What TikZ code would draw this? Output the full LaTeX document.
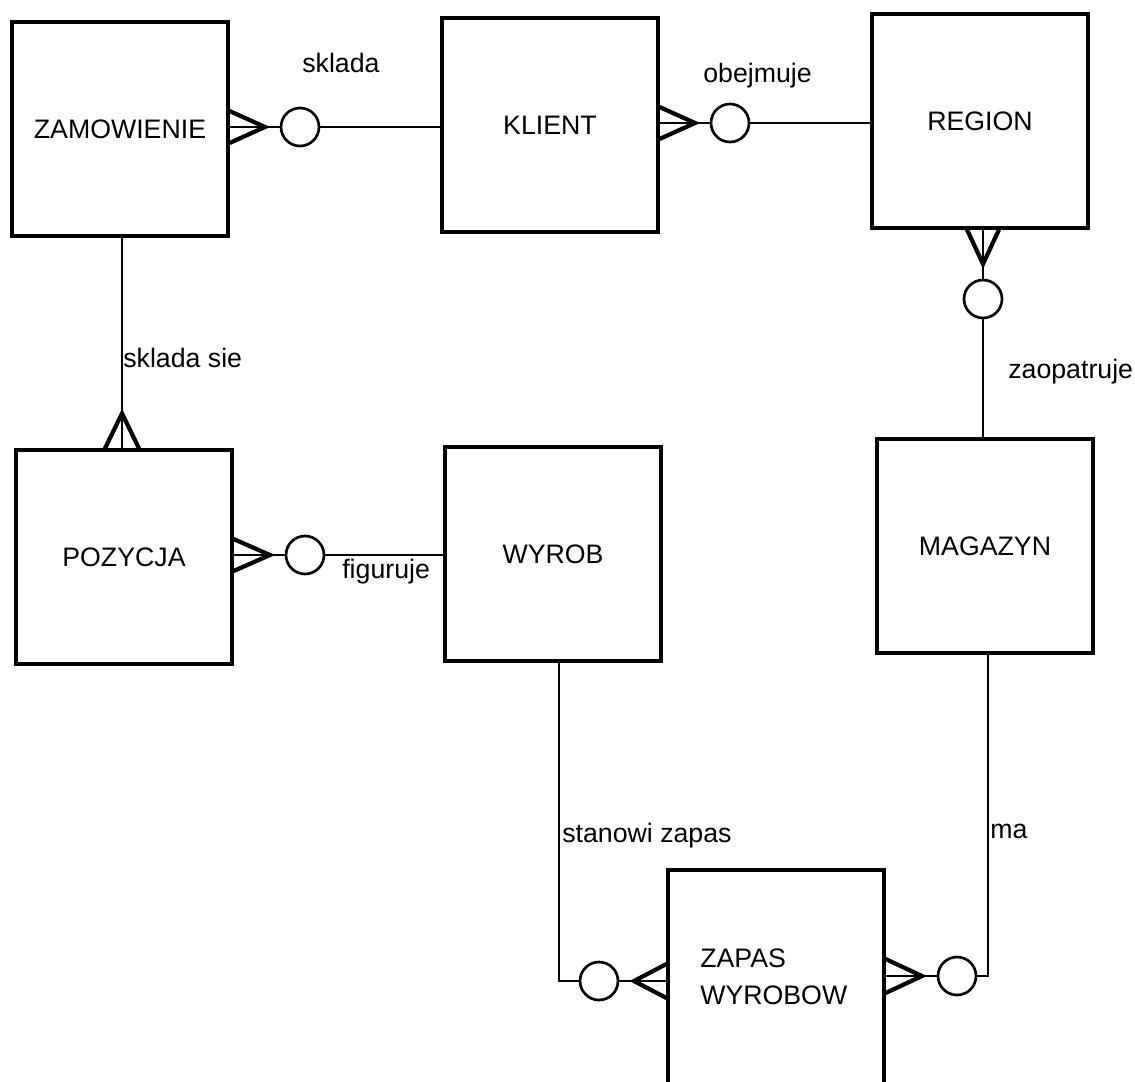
\documentclass[tikz,border=0pt]{standalone}
\usepackage{fontspec}
\setmainfont{Liberation Sans}
\usetikzlibrary{calc}

\begin{document}
\begin{tikzpicture}[x=0.025cm, y=-0.025cm, font=\fontsize{19}{26}\selectfont]
    \tikzstyle{entity}=[draw, line width=2.2pt, minimum width=5.4cm, minimum height=5.35cm, inner sep=0pt]
    \tikzstyle{opt}=[circle, draw, line width=1.9pt, minimum size=0.95cm, inner sep=0pt]
    \tikzstyle{link}=[line width=1.5pt]
    \tikzstyle{foot}=[line width=3pt, line join=miter]
    \tikzstyle{rel}=[anchor=base west, inner sep=0pt]

    \useasboundingbox (0,0) rectangle (1135,1081);
    \clip (0,0) rectangle (1135,1081);

    % encje
    \node[entity] (zam) at (120,129) {ZAMOWIENIE};
    \node[entity] (klient) at (550,125) {KLIENT};
    \node[entity] (region) at (980,121) {REGION};
    \node[entity] (poz) at (124,557) {POZYCJA};
    \node[entity] (wyrob) at (553,554) {WYROB};
    \node[entity] (magazyn) at (985,546) {MAGAZYN};
    \node[entity, minimum height=5.4cm] (zapas) at (776,978) {};
    \node[anchor=west, align=left, inner sep=0pt] (zapastxt) at (700,977) {ZAPAS\\WYROBOW};

    % kolka (opcjonalnosc)
    \node[opt] (o1) at (300,127) {};
    \node[opt] (o2) at (730,123) {};
    \node[opt] (o3) at (983,299) {};
    \node[opt] (o4) at (305,555) {};
    \node[opt] (o5) at (599,981) {};
    \node[opt] (o6) at (957,976) {};

    % ZAMOWIENIE - KLIENT
    \coordinate (t1) at ($(o1)+(-35,0)$);
    \draw[foot] ($(zam.east |- o1)+(0,-16)$) -- (t1) -- ($(zam.east |- o1)+(0,16)$);
    \draw[link] (zam.east |- o1) -- (o1) -- (o1 -| klient.west);

    % KLIENT - REGION
    \coordinate (t2) at ($(o2)+(-35,0)$);
    \draw[foot] ($(klient.east |- o2)+(0,-16)$) -- (t2) -- ($(klient.east |- o2)+(0,16)$);
    \draw[link] (klient.east |- o2) -- (o2) -- (o2 -| region.west);

    % REGION - MAGAZYN
    \coordinate (t3) at ($(o3)+(0,-35)$);
    \draw[foot] ($(region.south -| o3)+(-16,0)$) -- (t3) -- ($(region.south -| o3)+(16,0)$);
    \draw[link] (region.south -| o3) -- (o3) -- (o3 |- magazyn.north);

    % ZAMOWIENIE - POZYCJA
    \coordinate (t4) at ($(poz.north)+(-2,-35)$);
    \draw[foot] ($(poz.north)+(-19,0)$) -- (t4) -- ($(poz.north)+(15,0)$);
    \draw[link] ($(zam.south)+(2,0)$) -- ($(poz.north)+(-2,0)$);

    % POZYCJA - WYROB
    \coordinate (t5) at ($(o4)+(-35,0)$);
    \draw[foot] ($(poz.east |- o4)+(0,-16)$) -- (t5) -- ($(poz.east |- o4)+(0,16)$);
    \draw[link] (poz.east |- o4) -- (o4) -- (o4 -| wyrob.west);

    % WYROB - ZAPAS WYROBOW
    \coordinate (t6) at ($(o5)+(35,0)$);
    \draw[foot] ($(zapas.west |- o5)+(0,-17)$) -- (t6) -- ($(zapas.west |- o5)+(0,17)$);
    \draw[link] ($(wyrob.south)+(6,0)$) |- (o5) -- (o5 -| zapas.west);

    % MAGAZYN - ZAPAS WYROBOW
    \coordinate (t7) at ($(o6)+(-35,0)$);
    \draw[foot] ($(zapas.east |- o6)+(0,-17)$) -- (t7) -- ($(zapas.east |- o6)+(0,17)$);
    \draw[link] ($(magazyn.south)+(3,0)$) |- (o6) -- (o6 -| zapas.east);

    % nazwy zwiazkow
    \node[rel] (skl) at (302,72) {sklada};
    \node[rel] (obj) at (703,82) {obejmuje};
    \node[rel] (zaop) at (1008,378) {zaopatruje};
    \node[rel] (sklsie) at (123,367) {sklada sie};
    \node[rel] (fig) at (342,578) {figuruje};
    \node[rel] (stan) at (562,842) {stanowi zapas};
    \node[rel] (ma) at (990,838) {ma};
\end{tikzpicture}
\end{document}
